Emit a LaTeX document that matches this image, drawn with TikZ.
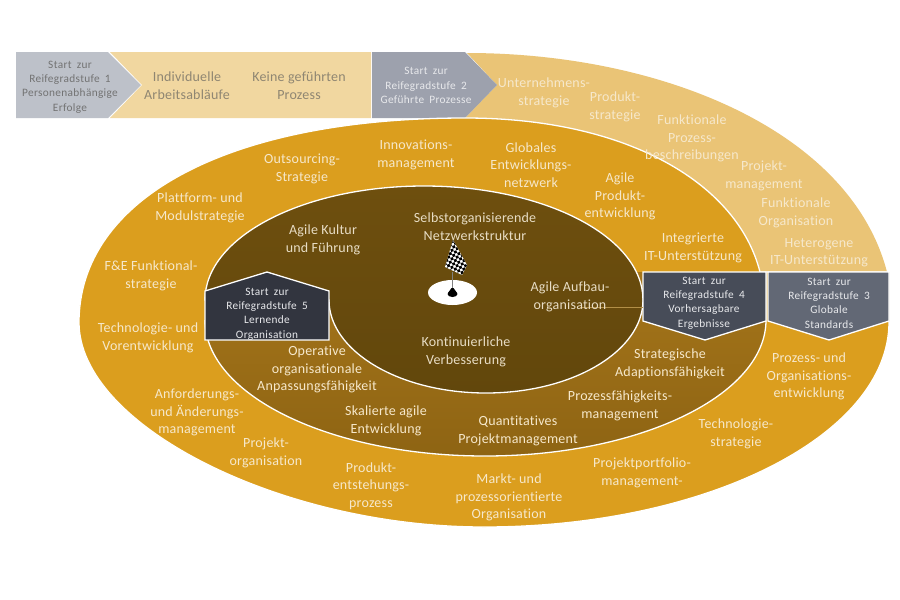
\documentclass[tikz,border=0pt]{standalone}
\usepackage{fontspec}
\setmainfont{Carlito}[Ligatures=NoCommon]
\newfontfamily\lablfont{Carlito}[LetterSpace=1.5,Ligatures=NoCommon]
\newfontfamily\boxfont{Carlito}[LetterSpace=3,WordSpace=1.8,Ligatures=NoCommon]
\definecolor{bandlight}{HTML}{F1D7A0}
\definecolor{ringlight}{HTML}{EAC476}
\definecolor{ringorange}{HTML}{DB9E1E}
\definecolor{ringtop}{HTML}{A5751A}
\definecolor{ringbot}{HTML}{8E6413}
\definecolor{coretop}{HTML}{6E4F0E}
\definecolor{corebot}{HTML}{62470C}
\definecolor{boxa}{HTML}{BDC1C9}
\definecolor{boxb}{HTML}{9DA1AD}
\definecolor{boxc}{HTML}{626875}
\definecolor{boxd}{HTML}{474C58}
\definecolor{boxe}{HTML}{32353F}
\definecolor{txtlight}{HTML}{F6E8CB}
\definecolor{txtcore}{HTML}{E8DDC5}
\definecolor{txtband}{HTML}{8F8672}
\definecolor{txtbox}{HTML}{E8E9EC}
\tikzset{
 shapeline/.style={draw=white,line width=1.3pt,line join=miter},
 lab/.style={align=center,font=\lablfont\fontsize{14}{17.5}\selectfont,text=txtlight,inner sep=0pt,yshift=-.8pt},
 corelab/.style={lab,text=txtcore},
 bandlab/.style={lab,text=txtband,yshift=0pt},
 boxlab/.style={align=center,font=\boxfont\fontsize{11.3}{14.4}\selectfont,text=txtbox,inner sep=0pt},
 leader/.style={draw=ringlight!55!coretop,line width=.7pt}
}
\begin{document}
\begin{tikzpicture}[x=1pt,y=-1pt]
\useasboundingbox (0,0) rectangle (900,600);
\fill[white] (0,0) rectangle (900,600);
% top band
\fill[bandlight] (110,52) -- (371,52) -- (371,118) -- (110,118) -- (142,85) -- cycle;
\fill[boxa] (16,52) -- (108,52) -- (141,85) -- (108,118) -- (16,118) -- cycle;
% light ring
\fill[ringlight] (467,53) .. controls (660,53) and (850,130) .. (887,272) -- (760,272) -- (465,118) -- (497,85) -- cycle;
\fill[boxb] (372,52) -- (465,52) -- (497,85) -- (465,118) -- (372,118) -- cycle;
% orange ellipse
\fill[ringorange,shapeline] (79,322.5) .. controls (79,200) and (225,118) .. (465,118)
  .. controls (630,118) and (738,185) .. (760,272) -- (889,272) -- (889,322)
  .. controls (889,435) and (707,527) .. (484,527)
  .. controls (280,527) and (79,425) .. (79,322.5) -- cycle;
% lower ring
\shade[top color=ringtop,bottom color=ringbot] (205,320) .. controls (205,395) and (330,456) .. (485,456)
  .. controls (640,456) and (766,395) .. (766,320) -- (766,272) -- (600,272) -- (205,300) -- cycle;
\draw[shapeline] (205,320) .. controls (205,395) and (330,456) .. (485,456)
  .. controls (640,456) and (766,395) .. (766,320) -- (766,272);
% core
\shade[top color=coretop,bottom color=corebot,draw=white,line width=1.3pt]
  (205,300) .. controls (205,237) and (303,186) .. (424,186)
  .. controls (545,186) and (643,237) .. (643,300)
  .. controls (643,351) and (573,393) .. (486,393)
  .. controls (399,393) and (329,351) .. (329,300) -- cycle;
% boxes
\path[fill=boxc,shapeline] (768,272) -- (889,272) -- (889,321) -- (829,340) -- (768,321) -- cycle;
\path[fill=boxd,shapeline] (643,272) -- (766,272) -- (766,321) -- (705,340) -- (643,321) -- cycle;
\path[fill=boxe,shapeline] (205,291) -- (267,272) -- (329,291) -- (329,340) -- (205,340) -- cycle;
% flag
\fill[white] (452.5,292.5) ellipse [x radius=24.5,y radius=12.5];
\draw[gray,line width=1pt] (452,293) -- (452,272);
\fill[black] (452.5,294) ellipse [x radius=5,y radius=3];
\fill[black] (451.5,288) -- (453.5,288) -- (457,293) -- (448,293) -- cycle;
\begin{scope}
\clip (453,240) -- (467,265) -- (462,275) -- (445,267) -- cycle;
\fill[white] (430,235) rectangle (475,280);
\foreach \i in {-8,...,8}{\foreach \j in {0,...,14}{
  \pgfmathtruncatemacro{\k}{mod(\i+\j+20,2)}
  \ifnum\k=0
  \fill[black,shift={(453,240)},rotate=18] (\i*2.7,\j*2.7-2.7) rectangle ++(2.7,2.7);
  \fi
}}
\end{scope}
% connector
\coordinate (aufbau) at (580,307.5);
\coordinate (boxfour) at (643,307.5);
\draw[leader] (aufbau) -- (boxfour);
% band text
\node[bandlab] (tIndiv) at (187,85) {Individuelle\\Arbeitsabläufe};
\node[bandlab] (tKeine) at (299,85) {Keine geführten\\Prozess};
\node[boxlab,text=black!55] (tOne) at (70,87) {Start zur\\Reifegradstufe 1\\Personenabhängige\\Erfolge};
\node[boxlab] (tTwo) at (426,85.5) {Start zur\\Reifegradstufe 2\\Geführte Prozesse};
\node[boxlab] (tThree) at (829,303) {Start zur\\Reifegradstufe 3\\Globale\\Standards};
\node[boxlab] (tFour) at (704,303) {Start zur\\Reifegradstufe 4\\Vorhersagbare\\Ergebnisse};
\node[boxlab] (tFive) at (267,314) {Start zur\\Reifegradstufe 5\\Lernende\\Organisation};
% ring labels
\node[lab] (a1) at (544,92) {Unternehmens-\\strategie};
\node[lab] (a2) at (615,106) {Produkt-\\strategie};
\node[lab] (a3) at (692,138) {Funktionale\\Prozess-\\beschreibungen};
\node[lab] (a4) at (764,175) {Projekt-\\management};
\node[lab] (a5) at (796,212) {Funktionale\\Organisation};
\node[lab] (a6) at (819,252) {Heterogene\\IT-Unterstützung};
\node[lab] (b1) at (302,168) {Outsourcing-\\Strategie};
\node[lab] (b2) at (416,154) {Innovations-\\management};
\node[lab] (b3) at (531,164) {Globales\\Entwicklungs-\\netzwerk};
\node[lab] (b4) at (620,196) {Agile\\Produkt-\\entwicklung};
\node[lab] (b5) at (693,247) {Integrierte\\IT-Unterstützung};
\node[lab] (b6) at (200,207) {Plattform- und\\Modulstrategie};
\node[lab] (b7) at (151,275) {F\&E Funktional-\\strategie};
\node[lab] (b8) at (148,337) {Technologie- und\\Vorentwicklung};
\node[lab] (b9) at (197,412) {Anforderungs-\\und Änderungs-\\management};
\node[lab] (b10) at (266,452) {Projekt-\\organisation};
\node[lab] (b11) at (371,485) {Produkt-\\entstehungs-\\prozess};
\node[lab] (b12) at (509,497) {Markt- und\\prozessorientierte\\Organisation};
\node[lab] (b13) at (642,472) {Projektportfolio-\\management-};
\node[lab] (b14) at (736,433) {Technologie-\\strategie};
\node[lab] (b15) at (809,376) {Prozess- und\\Organisations-\\entwicklung};
\node[lab] (c1) at (317,369) {Operative\\organisationale\\Anpassungsfähigkeit};
\node[lab] (c2) at (386,420) {Skalierte agile\\Entwicklung};
\node[lab] (c3) at (518,430) {Quantitatives\\Projektmanagement};
\node[lab] (c4) at (620,405) {Prozessfähigkeits-\\management};
\node[lab] (c5) at (670,363) {Strategische\\Adaptionsfähigkeit};
\node[corelab] (d1) at (475,226) {Selbstorganisierende\\Netzwerkstruktur};
\node[corelab] (d2) at (323,239) {Agile Kultur\\und Führung};
\node[corelab] (d3) at (570,296) {Agile Aufbau-\\organisation};
\node[corelab] (d4) at (466,351) {Kontinuierliche\\Verbesserung};
\end{tikzpicture}
\end{document}
